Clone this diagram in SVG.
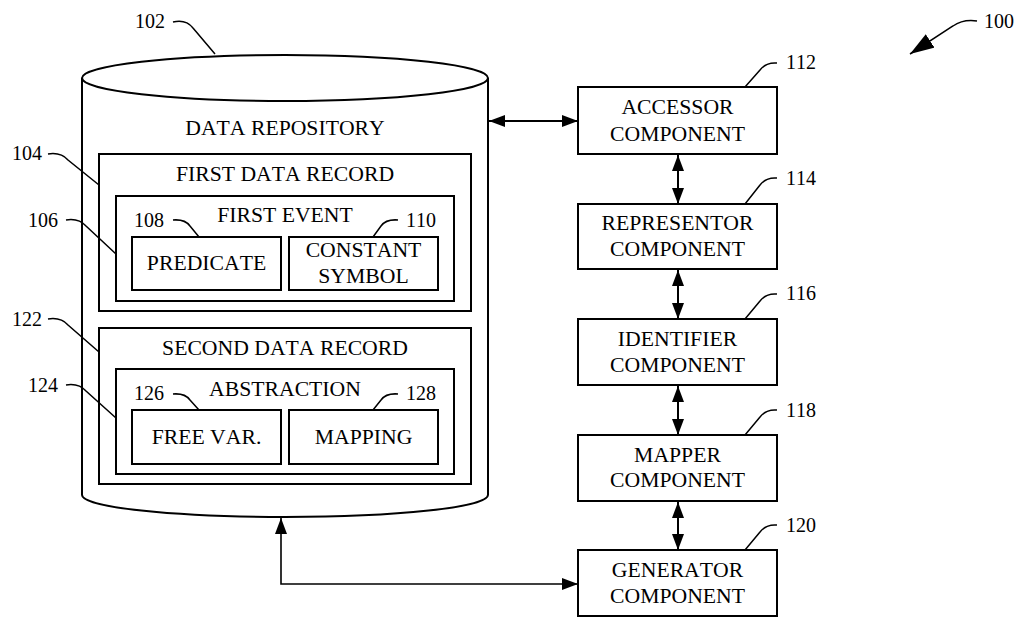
<svg xmlns="http://www.w3.org/2000/svg" width="1023" height="617" viewBox="0 0 1023 617">
<style>
text{font-family:"Liberation Serif","Times New Roman",serif;fill:#000;font-kerning:none}
.t{font-size:21.7px;text-anchor:middle}
.n{font-size:20px}
.box{fill:#fff;stroke:#000;stroke-width:2}
.ld{fill:none;stroke:#000;stroke-width:1.5}
.cn{fill:none;stroke:#000;stroke-width:2}
</style>
<defs>
<marker id="ah" viewBox="0 0 16 12" refX="16" refY="6" markerWidth="16" markerHeight="12" markerUnits="userSpaceOnUse" orient="auto-start-reverse">
<path d="M0,0 L16,6 L0,12 Z" fill="#000"/>
</marker>
<marker id="ah2" viewBox="0 0 24 16" refX="24" refY="8" markerWidth="24" markerHeight="16" markerUnits="userSpaceOnUse" orient="auto">
<path d="M0,0 L24,8 L0,16 Z" fill="#000"/>
</marker>
</defs>
<rect width="1023" height="617" fill="#fff"/>

<g id="ref100">
<path class="ld" d="M977,21 Q963,19 953,26 L910,54" marker-end="url(#ah2)"/>
<text class="n" x="984" y="28">100</text>
</g>

<g id="repository">
<path d="M82,78 L82,495 A203,22 0 0 0 488,495 L488,78" fill="#fff" stroke="#000" stroke-width="2"/>
<ellipse cx="285" cy="78" rx="203" ry="23" fill="#fff" stroke="#000" stroke-width="2"/>
<text class="t" x="285" y="135">DATA REPOSITORY</text>
<path class="ld" d="M173,22 Q186,19 193,28 L215,54"/>
<text class="n" x="135" y="28">102</text>
</g>

<g id="record1">
<rect class="box" x="99" y="154" width="372" height="157"/>
<text class="t" x="285" y="181">FIRST DATA RECORD</text>
<path class="ld" d="M48,154 Q61,152 68,160 L99,185"/>
<text class="n" x="12" y="160">104</text>
</g>

<g id="event1">
<rect class="box" x="116" y="196" width="338" height="105"/>
<text class="t" x="285" y="222">FIRST EVENT</text>
<path class="ld" d="M66,220 Q79,218 86,226 L116,254"/>
<text class="n" x="28" y="227">106</text>
</g>

<g id="predicate">
<rect class="box" x="132" y="237" width="149" height="53"/>
<text class="t" x="206.5" y="270">PREDICATE</text>
<path class="ld" d="M173,220 Q185,219 190,226 L199,237"/>
<text class="n" x="134" y="227">108</text>
</g>

<g id="constant">
<rect class="box" x="289" y="237" width="149" height="53"/>
<text class="t" x="363.5" y="257">CONSTANT</text>
<text class="t" x="363.5" y="283">SYMBOL</text>
<path class="ld" d="M398,220 Q386,219 381,226 L373,237"/>
<text class="n" x="406" y="227">110</text>
</g>

<g id="record2">
<rect class="box" x="99" y="328" width="372" height="156"/>
<text class="t" x="285" y="355">SECOND DATA RECORD</text>
<path class="ld" d="M48,319 Q61,317 68,325 L99,352"/>
<text class="n" x="12" y="326">122</text>
</g>

<g id="abstraction">
<rect class="box" x="116" y="369" width="338" height="105"/>
<text class="t" x="285" y="396">ABSTRACTION</text>
<path class="ld" d="M66,385 Q79,383 86,391 L116,418"/>
<text class="n" x="28" y="392">124</text>
</g>

<g id="freevar">
<rect class="box" x="132" y="410" width="149" height="54"/>
<text class="t" x="206.5" y="444">FREE VAR.</text>
<path class="ld" d="M173,394 Q185,393 190,400 L199,410"/>
<text class="n" x="134" y="400">126</text>
</g>

<g id="mapping">
<rect class="box" x="289" y="410" width="149" height="54"/>
<text class="t" x="363.5" y="444">MAPPING</text>
<path class="ld" d="M398,394 Q386,393 381,400 L373,410"/>
<text class="n" x="406" y="400">128</text>
</g>

<g id="accessor">
<rect class="box" x="578" y="87" width="199" height="67"/>
<text class="t" x="677.5" y="114">ACCESSOR</text>
<text class="t" x="677.5" y="141">COMPONENT</text>
<path class="ld" d="M777,63 Q766,62 760,70 L745,87"/>
<text class="n" x="786" y="69">112</text>
</g>

<g id="representor">
<rect class="box" x="578" y="204" width="199" height="65"/>
<text class="t" x="677.5" y="230">REPRESENTOR</text>
<text class="t" x="677.5" y="256">COMPONENT</text>
<path class="ld" d="M777,178 Q766,177 760,185 L745,204"/>
<text class="n" x="786" y="185">114</text>
</g>

<g id="identifier">
<rect class="box" x="578" y="319" width="199" height="66"/>
<text class="t" x="677.5" y="346">IDENTIFIER</text>
<text class="t" x="677.5" y="372">COMPONENT</text>
<path class="ld" d="M777,294 Q766,293 760,301 L745,319"/>
<text class="n" x="786" y="300">116</text>
</g>

<g id="mapper">
<rect class="box" x="578" y="435" width="199" height="66"/>
<text class="t" x="677.5" y="462">MAPPER</text>
<text class="t" x="677.5" y="487">COMPONENT</text>
<path class="ld" d="M777,410 Q766,409 760,417 L745,435"/>
<text class="n" x="786" y="417">118</text>
</g>

<g id="generator">
<rect class="box" x="578" y="550" width="199" height="66"/>
<text class="t" x="677.5" y="577">GENERATOR</text>
<text class="t" x="677.5" y="603">COMPONENT</text>
<path class="ld" d="M777,525 Q766,524 760,532 L745,550"/>
<text class="n" x="786" y="532">120</text>
</g>

<g id="connectors">
<line class="cn" x1="489" y1="121" x2="578" y2="121" marker-start="url(#ah)" marker-end="url(#ah)"/>
<line class="cn" x1="678" y1="155" x2="678" y2="204" marker-start="url(#ah)" marker-end="url(#ah)"/>
<line class="cn" x1="678" y1="270" x2="678" y2="319" marker-start="url(#ah)" marker-end="url(#ah)"/>
<line class="cn" x1="678" y1="386" x2="678" y2="435" marker-start="url(#ah)" marker-end="url(#ah)"/>
<line class="cn" x1="678" y1="502" x2="678" y2="550" marker-start="url(#ah)" marker-end="url(#ah)"/>
<path class="cn" style="stroke-width:1.6" d="M578,584 L281,584 L281,518" marker-start="url(#ah)" marker-end="url(#ah)"/>
</g>
</svg>
